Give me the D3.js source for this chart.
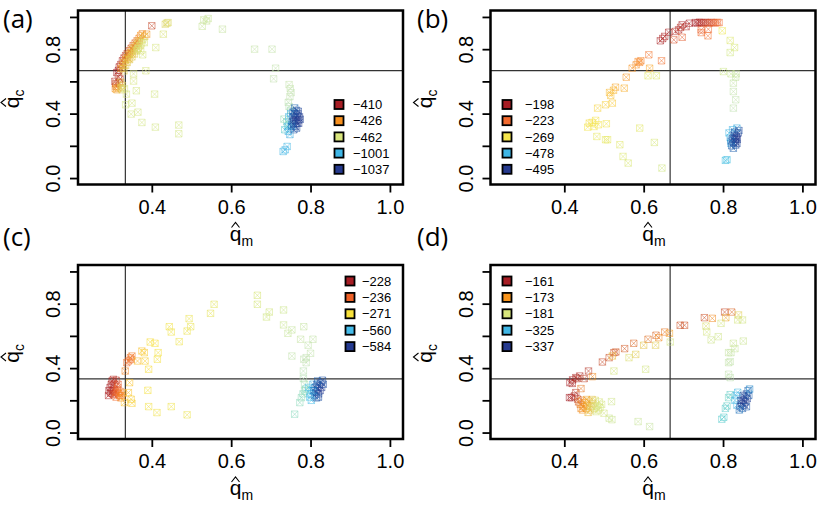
<!DOCTYPE html>
<html>
<head>
<meta charset="utf-8">
<script src="https://cdn.jsdelivr.net/npm/d3@7"></script>
<style>
body { margin: 0; background: #fff; }
svg { display: block; }
text { font-family: "Liberation Sans", Arial, sans-serif; }
</style>
</head>
<body>
<svg id="chart" width="830" height="512"></svg>
<script>
var panelNames = ["(a)", "(b)", "(c)", "(d)"];
var legendVals = [
  [-410, -426, -462, -1001, -1037],
  [-198, -223, -269, -478, -495],
  [-228, -236, -271, -560, -584],
  [-161, -173, -181, -325, -337]
];
var legendCols = [
  ["#a61d24", "#f7901e", "#d9e57c", "#3fb6e6", "#263a8e"],
  ["#a61d24", "#f26a2e", "#f5e64c", "#3fb6e6", "#263a8e"],
  ["#a61d24", "#ef6127", "#f8e13a", "#46bcea", "#253a90"],
  ["#a61d24", "#f7941d", "#d8e67c", "#40b6e5", "#263a8e"]
];
var vLines = [1/3, 2/3, 1/3, 2/3];
var hLines = [2/3, 2/3, 1/3, 1/3];
var xTicks = [0.4, 0.6, 0.8, 1.0];
var yTicks = [0, 0.2, 0.4, 0.6, 0.8, 1.0];
var yTickLabels = ["0.0", "", "0.4", "", "0.8", ""];

// [q_m, q_c, log-likelihood]
var pointsA = [
  [0.312,0.655,-410],[0.316,0.668,-410],[0.318,0.690,-411],[0.322,0.705,-412],[0.326,0.728,-412],[0.330,0.745,-414],
  [0.334,0.760,-415],[0.338,0.772,-416],[0.343,0.790,-417],[0.348,0.806,-418],[0.353,0.822,-420],[0.358,0.838,-421],
  [0.363,0.852,-422],[0.368,0.868,-424],[0.372,0.885,-426],[0.376,0.895,-425],
  [0.322,0.680,-426],[0.326,0.700,-428],[0.330,0.718,-430],[0.334,0.735,-430],[0.338,0.748,-432],[0.342,0.765,-433],
  [0.346,0.778,-434],[0.350,0.795,-435],[0.355,0.808,-436],[0.360,0.822,-438],[0.364,0.835,-440],[0.368,0.850,-440],
  [0.342,0.740,-436],[0.350,0.770,-438],[0.357,0.790,-440],
  [0.328,0.680,-445],[0.334,0.700,-447],[0.338,0.718,-448],[0.344,0.735,-450],[0.350,0.752,-450],[0.356,0.770,-452],
  [0.362,0.790,-454],[0.366,0.805,-455],[0.370,0.822,-456],[0.374,0.838,-458],[0.330,0.665,-450],[0.372,0.790,-460],
  [0.377,0.860,-459],
  [0.307,0.600,-412],[0.309,0.585,-416],[0.310,0.570,-420],[0.308,0.555,-428],[0.312,0.548,-432],[0.315,0.560,-430],
  [0.318,0.590,-418],[0.320,0.615,-414],[0.316,0.630,-413],[0.322,0.560,-448],[0.325,0.548,-452],[0.326,0.575,-450],
  [0.322,0.595,-446],
  [0.400,0.945,-415],[0.387,0.893,-428],[0.382,0.880,-440],[0.438,0.962,-455],[0.441,0.965,-456],[0.434,0.955,-454],
  [0.429,0.893,-460],
  [0.531,0.982,-600],[0.538,0.975,-600],[0.542,0.990,-610],[0.527,0.942,-600],[0.578,0.924,-640],[0.659,0.800,-680],
  [0.703,0.800,-700],[0.712,0.682,-710],[0.707,0.616,-720],
  [0.381,0.841,-470],[0.365,0.802,-468],[0.410,0.810,-475],[0.377,0.765,-470],[0.385,0.666,-480],[0.354,0.647,-475],
  [0.354,0.602,-480],[0.361,0.542,-485],[0.350,0.465,-490],[0.334,0.455,-488],[0.348,0.397,-495],[0.365,0.409,-495],
  [0.375,0.345,-500],[0.407,0.521,-500],[0.409,0.316,-505],[0.468,0.329,-510],[0.468,0.275,-510],[0.336,0.521,-480],
  [0.331,0.554,-478],
  [0.746,0.580,-700],[0.749,0.555,-710],[0.751,0.530,-720],[0.748,0.505,-730],[0.744,0.470,-740],[0.746,0.444,-760],
  [0.750,0.420,-780],[0.733,0.366,-800],[0.740,0.350,-830],[0.745,0.330,-860],[0.735,0.300,-900],
  [0.742,0.320,-1001],[0.744,0.290,-1003],[0.748,0.270,-1005],[0.745,0.380,-1000],[0.750,0.400,-1004],[0.741,0.196,-1001],
  [0.731,0.165,-1000],[0.736,0.175,-1001],[0.752,0.330,-1008],
  [0.758,0.300,-1030],[0.762,0.320,-1035],[0.766,0.340,-1037],[0.770,0.360,-1037],[0.772,0.380,-1036],[0.768,0.400,-1035],
  [0.764,0.420,-1030],[0.760,0.435,-1025],[0.756,0.380,-1032],[0.754,0.350,-1028],[0.758,0.360,-1035],[0.762,0.375,-1037],
  [0.766,0.390,-1037],[0.770,0.340,-1036],[0.774,0.365,-1034],[0.760,0.400,-1033],[0.765,0.310,-1030],[0.752,0.320,-1020],
  [0.756,0.410,-1026],[0.763,0.355,-1037],[0.769,0.415,-1033],[0.757,0.335,-1032]
];

var pointsB = [
  [0.730,0.965,-198],[0.735,0.962,-199],[0.740,0.967,-200],[0.745,0.965,-202],[0.750,0.963,-204],[0.755,0.966,-206],
  [0.760,0.965,-208],[0.765,0.963,-210],[0.770,0.966,-213],[0.775,0.965,-216],[0.780,0.963,-219],[0.785,0.966,-221],
  [0.790,0.965,-223],
  [0.642,0.852,-200],[0.648,0.866,-200],[0.653,0.879,-201],[0.663,0.905,-200],[0.688,0.920,-200],[0.697,0.951,-199],
  [0.715,0.961,-199],[0.707,0.940,-201],[0.693,0.935,-205],[0.680,0.910,-204],
  [0.676,0.858,-215],[0.697,0.874,-218],[0.745,0.903,-222],[0.762,0.883,-225],[0.763,0.924,-222],[0.745,0.920,-220],
  [0.798,0.914,-275],[0.818,0.854,-300],[0.829,0.810,-310],[0.818,0.779,-320],[0.801,0.661,-330],[0.820,0.647,-340],
  [0.833,0.647,-350],[0.832,0.626,-355],[0.826,0.589,-360],[0.826,0.537,-365],[0.832,0.486,-370],[0.826,0.434,-375],
  [0.645,0.728,-225],[0.613,0.765,-226],[0.593,0.728,-232],[0.586,0.723,-234],[0.590,0.718,-233],[0.581,0.703,-236],
  [0.571,0.682,-238],[0.615,0.682,-245],[0.556,0.626,-240],[0.551,0.558,-248],[0.529,0.564,-245],[0.524,0.545,-250],
  [0.514,0.531,-252],[0.517,0.513,-255],[0.521,0.465,-258],[0.504,0.455,-260],[0.484,0.434,-262],[0.479,0.358,-268],
  [0.463,0.341,-266],[0.459,0.316,-270],[0.506,0.337,-272],[0.486,0.331,-269],[0.470,0.345,-268],[0.475,0.320,-270],
  [0.611,0.635,-290],[0.590,0.310,-290],[0.482,0.258,-285],[0.504,0.238,-285],[0.509,0.238,-287],[0.540,0.207,-295],
  [0.548,0.134,-300],[0.561,0.093,-305],[0.627,0.221,-310],[0.646,0.062,-320],[0.632,0.635,-300],
  [0.815,0.280,-478],[0.818,0.250,-478],[0.820,0.215,-480],[0.824,0.300,-479],[0.810,0.114,-470],[0.806,0.110,-468],
  [0.835,0.310,-480],
  [0.822,0.200,-490],[0.826,0.220,-494],[0.830,0.240,-495],[0.834,0.260,-495],[0.838,0.280,-494],[0.832,0.205,-492],
  [0.828,0.265,-494],[0.836,0.240,-495],[0.824,0.245,-493],[0.840,0.295,-492],[0.826,0.185,-490],[0.831,0.225,-495],
  [0.835,0.215,-493],[0.829,0.285,-492],[0.833,0.250,-495],[0.820,0.230,-488]
];

var pointsC = [
  [0.292,0.260,-228],[0.295,0.280,-228],[0.298,0.300,-229],[0.300,0.320,-229],[0.303,0.330,-230],[0.296,0.245,-229],
  [0.300,0.255,-229],[0.304,0.270,-229],[0.306,0.300,-230],[0.302,0.240,-230],[0.310,0.325,-231],[0.291,0.230,-229],
  [0.305,0.235,-234],[0.308,0.250,-235],[0.312,0.265,-236],[0.316,0.245,-237],[0.318,0.230,-238],[0.314,0.280,-236],
  [0.310,0.220,-237],[0.320,0.255,-240],[0.324,0.230,-244],[0.322,0.215,-246],[0.328,0.245,-250],[0.315,0.300,-235],
  [0.337,0.434,-238],[0.342,0.445,-238],[0.346,0.465,-240],[0.350,0.475,-242],[0.333,0.382,-245],[0.348,0.455,-239],
  [0.341,0.248,-262],[0.348,0.207,-265],[0.350,0.182,-266],[0.331,0.186,-262],[0.344,0.310,-262],[0.390,0.262,-275],
  [0.392,0.161,-278],[0.413,0.124,-280],[0.449,0.161,-285],[0.489,0.110,-290],
  [0.375,0.506,-262],[0.381,0.496,-264],[0.364,0.444,-260],[0.383,0.444,-266],[0.392,0.393,-270],[0.396,0.562,-270],
  [0.408,0.554,-272],[0.416,0.496,-275],[0.414,0.455,-276],[0.444,0.657,-280],[0.449,0.624,-282],[0.469,0.564,-285],
  [0.489,0.630,-288],[0.494,0.707,-290],[0.498,0.657,-292],[0.548,0.740,-300],[0.557,0.796,-305],
  [0.666,0.852,-330],[0.666,0.796,-335],[0.689,0.717,-345],[0.696,0.748,-345],[0.732,0.761,-360],[0.732,0.668,-370],
  [0.743,0.616,-380],[0.753,0.637,-385],[0.783,0.657,-390],[0.775,0.579,-395],[0.806,0.579,-400],[0.794,0.542,-405],
  [0.800,0.492,-410],[0.753,0.475,-410],[0.783,0.455,-415],[0.789,0.465,-418],[0.789,0.434,-420],[0.782,0.382,-425],
  [0.782,0.335,-430],[0.785,0.300,-440],[0.785,0.258,-450],[0.777,0.217,-460],[0.773,0.186,-465],[0.760,0.114,-470],
  [0.781,0.240,-470],[0.788,0.270,-480],
  [0.798,0.220,-555],[0.800,0.240,-560],[0.802,0.200,-558],[0.804,0.260,-560],[0.806,0.300,-562],[0.795,0.280,-555],
  [0.810,0.230,-575],[0.814,0.250,-580],[0.818,0.270,-584],[0.822,0.290,-584],[0.826,0.310,-582],[0.830,0.325,-580],
  [0.812,0.280,-578],[0.816,0.300,-580],[0.820,0.240,-584],[0.824,0.260,-584],[0.828,0.280,-583],[0.815,0.215,-578],
  [0.820,0.220,-580],[0.832,0.300,-580],[0.808,0.260,-572],[0.818,0.320,-578]
];

var pointsD = [
  [0.414,0.310,-161],[0.421,0.327,-161],[0.429,0.341,-162],[0.439,0.351,-162],[0.461,0.382,-163],[0.450,0.335,-164],
  [0.471,0.347,-172],[0.496,0.438,-165],[0.513,0.465,-166],[0.525,0.496,-166],[0.530,0.500,-167],[0.552,0.521,-167],
  [0.575,0.554,-168],[0.611,0.579,-169],[0.631,0.604,-168],[0.653,0.624,-170],[0.638,0.589,-172],[0.665,0.616,-174],
  [0.692,0.666,-166],[0.703,0.666,-166],[0.753,0.713,-166],[0.773,0.709,-172],[0.804,0.748,-165],[0.822,0.748,-168],
  [0.807,0.713,-175],[0.839,0.730,-178],[0.420,0.305,-162],[0.432,0.335,-163],
  [0.630,0.542,-178],[0.600,0.542,-177],[0.563,0.465,-180],[0.521,0.475,-176],[0.525,0.382,-185],[0.605,0.393,-190],
  [0.667,0.562,-190],[0.757,0.661,-180],[0.759,0.624,-185],[0.795,0.678,-190],[0.837,0.699,-185],[0.849,0.699,-190],
  [0.770,0.575,-200],[0.788,0.595,-200],[0.826,0.554,-210],[0.851,0.568,-210],[0.830,0.521,-220],[0.814,0.496,-230],
  [0.820,0.496,-235],[0.814,0.434,-240],[0.818,0.440,-245],[0.814,0.362,-250],[0.818,0.341,-255],[0.580,0.485,-178],
  [0.413,0.217,-161],[0.418,0.217,-161],[0.425,0.227,-162],[0.429,0.248,-163],[0.442,0.273,-170],[0.434,0.207,-164],
  [0.436,0.190,-168],[0.440,0.175,-170],[0.444,0.200,-171],[0.448,0.160,-172],[0.452,0.185,-173],[0.455,0.150,-174],
  [0.458,0.170,-175],[0.462,0.195,-176],[0.465,0.140,-177],[0.468,0.160,-178],[0.472,0.180,-178],[0.475,0.150,-179],
  [0.478,0.200,-180],[0.482,0.165,-181],[0.486,0.140,-182],[0.490,0.155,-184],[0.494,0.175,-185],[0.446,0.140,-173],
  [0.460,0.125,-176],[0.470,0.205,-177],[0.480,0.130,-181],[0.442,0.150,-172],[0.456,0.205,-174],[0.488,0.190,-183],
  [0.519,0.192,-200],[0.513,0.089,-205],[0.520,0.080,-210],[0.586,0.068,-220],[0.615,0.037,-230],[0.500,0.120,-190],
  [0.814,0.217,-290],[0.810,0.165,-295],[0.797,0.083,-300],[0.802,0.095,-300],[0.818,0.235,-295],[0.806,0.150,-298],
  [0.830,0.200,-322],[0.833,0.230,-325],[0.835,0.170,-325],[0.837,0.250,-324],
  [0.843,0.160,-335],[0.847,0.180,-337],[0.851,0.200,-337],[0.855,0.220,-336],[0.859,0.240,-335],[0.863,0.260,-333],
  [0.845,0.200,-336],[0.849,0.150,-334],[0.853,0.170,-337],[0.857,0.190,-337],[0.861,0.210,-336],[0.865,0.230,-334],
  [0.867,0.270,-330],[0.841,0.140,-332],[0.851,0.230,-336],[0.859,0.160,-334]
];

var allPoints = [pointsA, pointsB, pointsC, pointsD];

// layout
var W = 325, H = 174;
var boxes = [{x: 78, y: 10.5}, {x: 490.5, y: 10.5}, {x: 78, y: 265}, {x: 490.5, y: 265}];
var tagPos = [[3, 28], [417, 28], [3, 246], [417, 246]];
var legPos = [
  {sx: 339, tx: 353, y: 104.5, dy: 16.2},
  {sx: 507, tx: 525, y: 104.5, dy: 16.2},
  {sx: 350, tx: 362, y: 281, dy: 16.4},
  {sx: 507, tx: 525, y: 281, dy: 16.4}
];
var paleMid = "#c4e2b2";

var svg = d3.select("#chart");
var marker = "M-3.2,-3.2h6.4v6.4h-6.4z M-3.2,-3.2L3.2,3.2 M3.2,-3.2L-3.2,3.2";

function hatLabel(sel, sub) {
  sel.append("text").attr("x", -5).attr("text-anchor", "middle").style("font-size", "21px").text("q");
  sel.append("path").attr("d", "M-9,-13L-5,-18L-1,-13").attr("fill", "none")
    .attr("stroke", "#000").attr("stroke-width", 1.1);
  sel.append("text").attr("x", 1).attr("y", 5).style("font-size", "14px").text(sub);
}

allPoints.forEach(function(pts, i) {
  var b = boxes[i];
  var x = d3.scaleLinear().domain([0.214, 1.033]).range([0, W]);
  var y = d3.scaleLinear().domain([-0.04, 1.04]).range([H, 0]);
  var lv = legendVals[i], lc = legendCols[i];
  // pale green between the upper and lower groups of the ramp
  var col = d3.scaleLinear()
    .domain([lv[0], lv[1], lv[2], (lv[2] + lv[3]) / 2, lv[3], lv[4]])
    .range([lc[0], lc[1], lc[2], paleMid, lc[3], lc[4]])
    .interpolate(d3.interpolateHcl).clamp(true);

  var g = svg.append("g").attr("transform", "translate(" + b.x + "," + b.y + ")");

  g.append("line").attr("x1", x(vLines[i])).attr("x2", x(vLines[i])).attr("y1", 0).attr("y2", H)
    .attr("stroke", "#333").attr("stroke-width", 1.2);
  g.append("line").attr("x1", 0).attr("x2", W).attr("y1", y(hLines[i])).attr("y2", y(hLines[i]))
    .attr("stroke", "#333").attr("stroke-width", 1.2);

  g.append("g").selectAll("path").data(pts).enter()
    .append("path")
    .attr("d", marker)
    .attr("transform", function(d) { return "translate(" + x(d[0]) + "," + y(d[1]) + ")"; })
    .attr("fill", "none")
    .attr("stroke", function(d) { return col(d[2]); })
    .attr("stroke-width", 1)
    .attr("stroke-opacity", 0.5);

  var xAxis = d3.axisBottom(x).tickValues(xTicks).tickSize(8).tickSizeOuter(0).tickFormat(d3.format(".1f"));
  var gx = g.append("g").attr("transform", "translate(0," + H + ")").call(xAxis);
  gx.select(".domain").remove();
  gx.selectAll("line").attr("stroke-width", 1.8);
  gx.selectAll("text").attr("y", 29).attr("dy", 0).style("font-size", "20px")
    .style("font-family", "'Liberation Sans', Arial, sans-serif").attr("fill", "#000");

  var yAxis = d3.axisLeft(y).tickValues(yTicks).tickSize(8).tickSizeOuter(0)
    .tickFormat(function(d, k) { return yTickLabels[k]; });
  var gy = g.append("g").call(yAxis);
  gy.select(".domain").remove();
  gy.selectAll("line").attr("stroke-width", 1.8);
  gy.selectAll("text").attr("x", 0).attr("y", -18).attr("dy", 0).attr("transform", "rotate(-90)")
    .attr("text-anchor", "middle").style("font-size", "20px")
    .style("font-family", "'Liberation Sans', Arial, sans-serif").attr("fill", "#000");

  g.append("rect").attr("width", W).attr("height", H).attr("fill", "none")
    .attr("stroke", "#000").attr("stroke-width", 2.5);

  hatLabel(g.append("g").attr("transform", "translate(" + (W / 2) + "," + (H + 56) + ")"), "m");
  hatLabel(g.append("g").attr("transform", "translate(-59," + (H / 2) + ") rotate(-90)"), "c");

  // legend
  var lp = legPos[i];
  var leg = svg.append("g");
  lv.forEach(function(v, k) {
    var ly = lp.y + k * lp.dy;
    leg.append("rect").attr("x", lp.sx - 4.5).attr("y", ly - 4.5).attr("width", 9).attr("height", 9)
      .attr("fill", lc[k]).attr("stroke", "#000").attr("stroke-width", 1.8);
    leg.append("text").attr("x", lp.tx).attr("y", ly).attr("dy", "0.36em")
      .style("font-size", "13px").text("\u2212" + Math.abs(v));
  });

  svg.append("text").attr("x", tagPos[i][0]).attr("y", tagPos[i][1])
    .style("font-family", "'Open Sans', sans-serif").style("font-size", "26px")
    .text(panelNames[i]);
});
</script>
</body>
</html>
